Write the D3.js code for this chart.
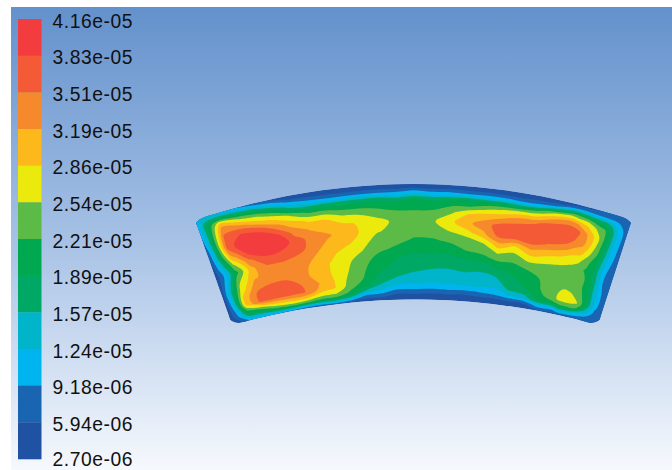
<!DOCTYPE html>
<html><head><meta charset="utf-8">
<script src="https://cdn.jsdelivr.net/npm/d3@7"></script>
<style>html,body{margin:0;padding:0;background:#fff}svg{display:block}</style>
</head><body><svg id="c" width="672" height="470"></svg>
<script>
const tickLabels = ["4.16e-05","3.83e-05","3.51e-05","3.19e-05","2.86e-05","2.54e-05","2.21e-05","1.89e-05","1.57e-05","1.24e-05","9.18e-06","5.94e-06","2.70e-06"];
const bandColors = ["#f23c3e","#f55a37","#f6892b","#fdb81b","#ecea0c","#5cba47","#00a84f","#00a866","#00b5c9","#00b4ef","#1a65b1","#2052a3"];
const rowsV = [0,.03,.06,.09,.12,.17,.24,.32,.40,.48,.56,.64,.72,.80,.86,.91,.95,1];
const colsU = [-1,-.96,-.9,-.82,-.74,-.66,-.58,-.5,-.42,-.34,-.26,-.18,-.09,0,.09,.18,.26,.34,.42,.5,.58,.66,.74,.78,.82,.86,.9,.96,1];
// contour level (in legend bands above 2.70e-06) read along each radial column, top edge to bottom edge
const fieldColumns = [
[2.8,2.8,2.7,2.5,2.3,2,1.6,1,.6,.4,.3,.2,.2,.2,.2,.2,.2,.2],
[3.2,3.5,4.5,5,5,5,5,4.5,4,3,2,2.5,3.3,3,2.5,2,1.5,.5],
[2.6,4,5.5,7.7,8.8,9.7,10.3,10.5,8.9,7,5.5,6.7,7.3,8.2,8,6,4.5,2],
[2,3.5,5,6.5,7.7,9.5,11.1,11.8,11.4,9.8,8.7,8.8,9.6,10.3,10.2,7,5,2],
[1,2.8,4.5,5.8,7,8.3,10.7,11.9,11.9,10.95,10,9.5,9.95,10.8,10.2,8,6,2],
[.5,2,3.2,5,6,7.7,9.4,11.2,11.8,10.8,10,9.2,9.95,10.6,10.1,8.3,6.5,1.5],
[.2,.9,2.2,3.4,4.5,6.8,8.4,9.6,10.5,10.6,9.5,9.4,9.4,9.9,10,8.2,6,1],
[.1,.8,1.7,2.8,4,5.8,7.8,8.9,9.6,9.4,9,8.6,8.5,9,8.6,7.2,5.5,1],
[0,.7,1.5,2.6,4.2,5.8,7.8,8.7,9.1,8.7,8.3,7.9,7.9,8,8,7,5.5,1],
[0,.7,1.5,2.7,4.2,5.6,7,8.2,8.6,8.3,7.5,7.2,7,6.7,6.4,5.7,4,.5],
[0,.7,1.5,3,4.4,5.6,6.9,7.9,7.9,7.5,7,6.4,6.1,5.9,5.3,3.8,1.8,.2],
[0,.8,1.6,3,4.6,5.5,6.6,7.4,7.1,6.5,6.2,5.6,5.3,4.6,4,3,1.7,.2],
[0,.7,1.7,2.9,4.2,5.3,6.2,6.8,6.7,6.3,5.8,5,4.5,4,3.2,2,.9,.1],
[0,1,2.2,3.2,5,5.5,6.1,6.5,6.4,5.9,5.3,4.7,4.3,3.7,3.05,2,1,.1],
[0,.7,1.8,2.9,4.6,5.4,6.2,6.85,6.6,5.9,5.3,4.7,4.1,3.5,2.9,1.9,.9,0],
[0,.8,1.9,3,5.1,5.8,6.9,7.8,7.05,6.2,5.5,4.6,4.05,3.5,3,2,1,0],
[0,.7,1.6,3.3,4.9,5.8,8,8.8,7.7,6.3,6,4.9,4.2,3.6,3,1.9,.8,0],
[0,.7,1.7,3,4.9,6.4,8.5,9.5,8.8,7,6.3,5,4.1,3.5,3.1,2,1,0],
[0,.6,1.7,3,5,6.9,8.8,10.6,10.4,8.6,7,5.7,4.3,3.7,3,2.2,1,0],
[0,.6,1.4,2.6,4.6,7.4,9.5,10.7,10.4,7.8,6.6,5.8,5,4.5,4.1,3,1.2,0],
[0,.8,1.5,2.8,5.5,7.6,9.9,10.8,10.7,9,7.5,6.2,5.5,5.1,4.5,3.2,1.2,0],
[.2,.9,2,4.8,6.8,8.8,10.6,10.8,10,8.5,7.2,6.4,6.1,6,5.6,5,2.7,.6],
[.5,1.3,3.6,6,7.5,9.5,10.7,10.8,9.4,8,7,6.5,6.4,6.6,6.8,5.5,2.7,.6],
[.6,1.5,3.5,5.7,6.9,8.9,10.4,9.9,8.8,7.6,6.8,6.2,6.4,7.5,7.4,6,4,.8],
[.8,1.3,3.2,5,6.7,8,9.2,9.3,8.5,7.3,6.4,6.1,6.4,7.2,7.5,6,3.7,.8],
[1,1.2,2.6,4.4,5.6,7,7.9,7.9,7.2,6.3,5.9,6.2,6.2,6.6,7.1,5.9,3,1],
[1,1,2.5,3.9,5.2,6.2,6.4,6.1,5.8,5.3,5,5.3,5.2,5.4,5.5,4.2,2.5,1],
[1.2,1.6,1.8,2.2,2.7,3,2.9,2.7,2.5,2.2,2,2,2.2,2.3,2.2,1.8,1.5,1],
[1.2,1.2,1.2,1.2,1.2,1.3,1.3,1.3,1.3,1.3,1.3,1.3,1.3,1.3,1.2,1.1,1,.5]
];

const svg = d3.select("#c");
const defs = svg.append("defs");
const grad = defs.append("linearGradient").attr("id","bg").attr("x1",0).attr("y1",0).attr("x2",0).attr("y2",1);
grad.append("stop").attr("offset","0%").attr("stop-color","#6391cc");
grad.append("stop").attr("offset","50%").attr("stop-color","#a6c1e5");
grad.append("stop").attr("offset","100%").attr("stop-color","#f6f9fd");
svg.append("rect").attr("x",11).attr("y",7).attr("width",661).attr("height",463).attr("fill","url(#bg)");

// geometry of the sector
const cxS = d3.scaleLinear([0,1],[413.5,415]);
const hwS = d3.scaleLinear([0,1],[218.5,183]);
const yMid = d3.scaleLinear([0,1],[184,299.5]);
const sag = d3.scaleLinear([0,1],[36,25.5]);
const nc = colsU.length, nr = rowsV.length;
const uOf = d3.scaleLinear(d3.range(nc),colsU).clamp(true);
const vOf = d3.scaleLinear(d3.range(nr),rowsV).clamp(true);
const project = ([c,r]) => {
  const u = uOf(c-.5), v = vOf(r-.5);
  return [cxS(v)+u*hwS(v), yMid(v)+u*u*sag(v)];
};
const flat = [];
for (let r=0;r<nr;r++) for (let c=0;c<nc;c++) flat.push(fieldColumns[c][r]);
const contours = d3.contours().size([nc,nr]).thresholds(d3.range(0,12))(flat);
const smooth = d3.line().curve(d3.curveCatmullRomClosed.alpha(.5));
const sharp = d3.line().curve(d3.curveLinearClosed);
const colorOf = d3.scaleOrdinal(d3.range(0,12),bandColors.slice().reverse());

// outline with the four corners eased off
const isCorner = ([c,r]) => (c<=.5||c>=nc-.5)&&(r<=.5||r>=nr-.5);
const outer = contours[0].coordinates[0][0].slice(0,-1).filter(p=>!isCorner(p)).map(project);
defs.append("clipPath").attr("id","sector").append("path").attr("d",smooth(outer));
const g = svg.append("g").attr("clip-path","url(#sector)");
contours.forEach(ct=>{
  const rings = ct.coordinates.flat().map(ring=>ring.slice(0,-1).map(project));
  g.append("path")
    .attr("d",rings.map(r=>ct.value===0?sharp(r):smooth(r)).join(""))
    .attr("fill",colorOf(ct.value)).attr("fill-rule","evenodd");
});

// legend
const ly = d3.scaleLinear([0,12],[19,459]);
svg.append("g").selectAll("rect").data(bandColors).join("rect")
  .attr("x",18).attr("width",23.5)
  .attr("y",(d,i)=>ly(i)).attr("height",(d,i)=>ly(i+1)-ly(i)+.3)
  .attr("fill",d=>d);
svg.append("g").selectAll("text").data(tickLabels).join("text")
  .attr("x",52.5).attr("y",(d,i)=>Math.min(ly(i)+8.7,465.5))
  .attr("font-family","Liberation Sans, Arial, sans-serif").attr("font-size",19.3)
  .attr("letter-spacing",.55).attr("fill","#111").text(d=>d);
</script></body></html>
